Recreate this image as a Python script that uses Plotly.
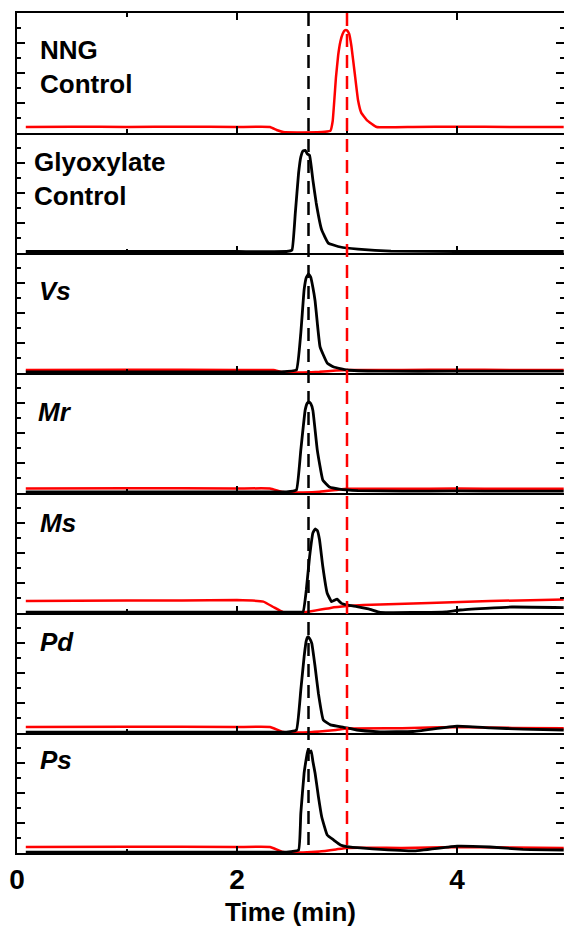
import plotly.graph_objects as go

# ---------------- data ----------------
# reference retention times (min) marked by dashed lines
glyoxylate_rt = 2.65
nng_rt = 3.0

# Panel 1: NNG control (red only)
nng_red_t = [0.08, 0.5, 1.0, 1.5, 2.0, 2.3, 2.36, 2.42, 2.6, 2.8, 2.85, 2.87, 2.9, 2.92, 2.94, 2.96,
             2.98, 3.0, 3.02, 3.04, 3.07, 3.10, 3.13, 3.18, 3.27, 3.6, 4.0, 4.5, 4.97]
nng_red_y = [0.2, 0.21, 0.2, 0.21, 0.2, 0.2, 0.1, 0.03, 0.02, 0.04, 0.08, 0.4, 1.87, 2.6, 3.05, 3.3,
             3.42, 3.42, 3.3, 2.9, 2.0, 1.1, 0.67, 0.43, 0.2, 0.2, 0.21, 0.2, 0.2]

# Panel 2: Glyoxylate control (black only)
gly_black_t = [0.08, 1.0, 2.0, 2.45, 2.5, 2.53, 2.56, 2.58, 2.6, 2.62, 2.64, 2.66, 2.69, 2.72,
               2.77, 2.83, 2.94, 3.1, 3.4, 4.0, 4.5, 4.97]
gly_black_y = [0.05, 0.05, 0.05, 0.05, 0.1, 1.33, 2.67, 3.2, 3.4, 3.42, 3.3, 3.25, 2.43, 1.67,
               0.77, 0.33, 0.2, 0.13, 0.06, 0.05, 0.05, 0.05]

# Panel 3: Vs
vs_red_t = [0.08, 1.0, 2.0, 2.33, 2.42, 2.6, 2.75, 2.9, 3.0, 3.5, 4.0, 4.5, 4.97]
vs_red_y = [0.1, 0.11, 0.1, 0.1, 0.03, 0.02, 0.04, 0.08, 0.1, 0.1, 0.11, 0.1, 0.1]
vs_black_t = [0.08, 1.0, 2.0, 2.4, 2.54, 2.58, 2.61, 2.63, 2.65, 2.67, 2.69, 2.71, 2.73, 2.755,
              2.82, 2.88, 3.0, 3.3, 4.0, 4.97]
vs_black_y = [0.04, 0.04, 0.04, 0.04, 0.1, 1.33, 2.77, 3.18, 3.3, 3.2, 2.85, 2.4, 1.67, 0.87,
              0.33, 0.2, 0.1, 0.06, 0.06, 0.06]

# Panel 4: Mr
mr_red_t = [0.08, 1.0, 2.0, 2.3, 2.42, 2.6, 2.75, 2.9, 3.0, 3.5, 4.0, 4.5, 4.97]
mr_red_y = [0.15, 0.16, 0.15, 0.15, 0.03, 0.02, 0.04, 0.1, 0.14, 0.14, 0.15, 0.14, 0.14]
mr_black_t = [0.08, 1.0, 2.0, 2.45, 2.54, 2.58, 2.62, 2.64, 2.655, 2.67, 2.69, 2.73, 2.78, 2.84,
              2.93, 3.1, 3.5, 4.0, 4.5, 4.97]
mr_black_y = [0.04, 0.04, 0.04, 0.04, 0.1, 1.43, 2.77, 3.0, 3.03, 2.98, 2.75, 1.43, 0.43, 0.2,
              0.13, 0.08, 0.06, 0.07, 0.06, 0.06]

# Panel 5: Ms
ms_red_t = [0.08, 1.0, 1.5, 2.0, 2.24, 2.33, 2.42, 2.63, 2.85, 3.0, 3.15, 3.75, 4.3, 4.97]
ms_red_y = [0.4, 0.42, 0.42, 0.43, 0.38, 0.2, 0.03, 0.03, 0.17, 0.23, 0.27, 0.33, 0.4, 0.45]
ms_black_t = [0.08, 1.0, 2.0, 2.5, 2.6, 2.63, 2.66, 2.69, 2.71, 2.73, 2.75, 2.78, 2.82, 2.86,
              2.91, 2.95, 3.0, 3.09, 3.21, 3.3, 3.6, 3.9, 4.03, 4.5, 4.97]
ms_black_y = [0.03, 0.03, 0.03, 0.03, 0.04, 0.77, 1.88, 2.67, 2.8, 2.75, 2.45, 1.55, 0.66, 0.38,
              0.46, 0.32, 0.27, 0.21, 0.12, 0.02, 0.02, 0.04, 0.1, 0.2, 0.18]

# Panel 6: Pd
pd_red_t = [0.08, 1.0, 2.0, 2.3, 2.42, 2.6, 2.75, 2.9, 3.0, 3.5, 4.0, 4.5, 4.97]
pd_red_y = [0.2, 0.21, 0.2, 0.2, 0.03, 0.02, 0.05, 0.1, 0.15, 0.16, 0.2, 0.17, 0.16]
pd_black_t = [0.08, 1.0, 2.0, 2.45, 2.54, 2.58, 2.61, 2.63, 2.645, 2.66, 2.68, 2.71, 2.74,
              2.785, 2.85, 2.97, 3.09, 3.3, 3.6, 4.0, 4.3, 4.6, 4.97]
pd_black_y = [0.03, 0.03, 0.03, 0.03, 0.1, 1.43, 2.54, 3.08, 3.21, 3.15, 2.99, 2.21, 1.32,
              0.43, 0.27, 0.19, 0.1, 0.04, 0.05, 0.23, 0.17, 0.13, 0.1]

# Panel 7: Ps
ps_red_t = [0.08, 1.0, 2.0, 2.3, 2.42, 2.6, 2.75, 2.9, 3.0, 3.5, 4.0, 4.5, 4.97]
ps_red_y = [0.2, 0.21, 0.2, 0.2, 0.03, 0.02, 0.05, 0.12, 0.17, 0.17, 0.2, 0.18, 0.17]
ps_black_t = [0.08, 1.0, 2.0, 2.45, 2.56, 2.58, 2.61, 2.63, 2.645, 2.66, 2.675, 2.69, 2.71,
              2.74, 2.77, 2.82, 2.88, 2.94, 3.0, 3.15, 3.6, 4.0, 4.3, 4.6, 4.97]
ps_black_y = [0.03, 0.03, 0.03, 0.03, 0.1, 1.32, 2.66, 3.15, 3.45, 3.35, 3.4, 3.05, 2.66,
              1.88, 1.21, 0.6, 0.43, 0.27, 0.21, 0.16, 0.07, 0.23, 0.2, 0.12, 0.1]

panel_labels = ["NNG<br>Control", "Glyoxylate<br>Control", "<i>Vs</i>", "<i>Mr</i>",
                "<i>Ms</i>", "<i>Pd</i>", "<i>Ps</i>"]
red_series = [(nng_red_t, nng_red_y), None, (vs_red_t, vs_red_y), (mr_red_t, mr_red_y),
              (ms_red_t, ms_red_y), (pd_red_t, pd_red_y), (ps_red_t, ps_red_y)]
black_series = [None, (gly_black_t, gly_black_y), (vs_black_t, vs_black_y),
                (mr_black_t, mr_black_y), (ms_black_t, ms_black_y),
                (pd_black_t, pd_black_y), (ps_black_t, ps_black_y)]
x_tick_vals = [0, 2, 4]
x_tick_text = ["0", "2", "4"]
x_title = "Time (min)"

# ---------------- layout / styling ----------------
FONT = "Liberation Sans, Arial, sans-serif"
W, H = 564, 928
ML, MR, MT, MB = 17, 0, 13, 75
px_per_min = 110.0
x_range = [0, (W - ML - MR) / px_per_min]
y_range = [0, 4]
n_panels = 7

label_pos = [(0.19, 2.2), (0.14, 2.47), (0.18, 2.75), (0.17, 2.7),
             (0.19, 3.0), (0.19, 3.05), (0.19, 3.1)]

fig = go.Figure()
layout = {}
for i in range(n_panels):
    n = i + 1
    sx = "" if n == 1 else str(n)
    xa, ya = "x" + sx, "y" + sx
    dom = [1 - (i + 1) / n_panels, 1 - i / n_panels]
    layout["xaxis" + sx] = dict(
        domain=[0, 1], range=x_range, anchor=ya, showgrid=False, zeroline=False,
        showline=True, linecolor="black", linewidth=2,
        mirror="ticks" if n == 1 else False,
        ticks="inside", ticklen=7, tickwidth=2, tickcolor="black",
        tickmode="array", tickvals=x_tick_vals, ticktext=x_tick_text,
        showticklabels=(n == n_panels),
        tickfont=dict(family=FONT, size=28, color="black", weight="bold"),
        minor=dict(ticks="inside", ticklen=4, tickwidth=2, tickcolor="black",
                   dtick=1, tick0=0, showgrid=False),
        fixedrange=True,
    )
    layout["yaxis" + sx] = dict(
        domain=dom, range=y_range, anchor=xa, showgrid=False, zeroline=False,
        showline=True, linecolor="black", linewidth=2, mirror=False,
        ticks="inside", ticklen=8, tickwidth=2, tickcolor="black",
        dtick=1, tick0=0, showticklabels=False,
        minor=dict(ticks="inside", ticklen=4, tickwidth=2, tickcolor="black",
                   dtick=0.5, tick0=0, showgrid=False),
        fixedrange=True,
    )
    # right-hand tick axis (no line)
    rn = str(n + n_panels)
    layout["yaxis" + rn] = dict(
        overlaying=ya, side="right", anchor=xa, range=y_range, showgrid=False,
        zeroline=False, showline=False, ticks="inside", ticklen=8, tickwidth=2,
        tickcolor="black", dtick=1, tick0=0, showticklabels=False,
        minor=dict(ticks="inside", ticklen=4, tickwidth=2, tickcolor="black",
                   dtick=0.5, tick0=0, showgrid=False),
        fixedrange=True,
    )
    fig.add_trace(go.Scatter(x=[None], y=[None], xaxis=xa, yaxis="y" + rn,
                             showlegend=False, hoverinfo="skip"))
    if red_series[i] is not None:
        t, v = red_series[i]
        fig.add_trace(go.Scatter(x=t, y=v, mode="lines", xaxis=xa, yaxis=ya,
                                 line=dict(color="#ff0000", width=2.5, shape="spline",
                                           smoothing=0.3),
                                 showlegend=False))
    if black_series[i] is not None:
        t, v = black_series[i]
        fig.add_trace(go.Scatter(x=t, y=v, mode="lines", xaxis=xa, yaxis=ya,
                                 line=dict(color="black", width=2.8, shape="spline",
                                           smoothing=0.3),
                                 showlegend=False))

annotations = []
for i, txt in enumerate(panel_labels):
    n = i + 1
    sx = "" if n == 1 else str(n)
    lx, ly = label_pos[i]
    annotations.append(dict(
        text="<b>" + txt + "</b>", xref="x" + sx, yref="y" + sx, x=lx, y=ly,
        xanchor="left", yanchor="middle", align="left", showarrow=False,
        font=dict(family=FONT, size=26, color="black"),
    ))
annotations.append(dict(
    text="<b>" + x_title + "</b>", xref="paper", yref="paper", x=0.5,
    y=(853 - 912) / (H - MT - MB), xanchor="center", yanchor="middle",
    showarrow=False, font=dict(family=FONT, size=26, color="black"),
))

shapes = [
    dict(type="line", xref="x", yref="paper", x0=glyoxylate_rt, x1=glyoxylate_rt,
         y0=1, y1=0, line=dict(color="black", width=2.5, dash="13px,8px"), layer="above"),
    dict(type="line", xref="x", yref="paper", x0=nng_rt, x1=nng_rt,
         y0=1, y1=0, line=dict(color="#ff0000", width=2.5, dash="13px,8px"), layer="above"),
]

fig.update_layout(
    width=W, height=H, margin=dict(l=ML, r=MR, t=MT, b=MB, pad=0),
    plot_bgcolor="white", paper_bgcolor="white", showlegend=False,
    annotations=annotations, shapes=shapes, **layout,
)

fig.write_html(
    "out.html",
    config={"displayModeBar": False},
    post_script="document.body.style.margin='0';document.body.style.overflow='hidden';",
)
